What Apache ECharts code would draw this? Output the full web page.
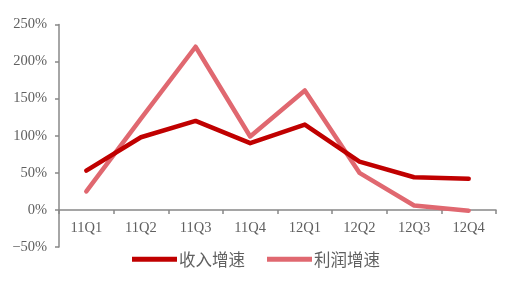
<!DOCTYPE html>
<html><head><meta charset="utf-8">
<script src="https://cdn.jsdelivr.net/npm/echarts@6/dist/echarts.min.js"></script>
<style>html,body{margin:0;padding:0;background:#fff}#c{width:520px;height:293px}</style>
</head><body><div id="c"></div>
<script>
var categories = ['11Q1','11Q2','11Q3','11Q4','12Q1','12Q2','12Q3','12Q4'];
var revenueGrowth = [53, 98, 120, 90, 115, 65, 44, 42];
var profitGrowth = [25, 123, 220, 99, 161, 50, 6, -1];
var seriesNames = ['收入增速','利润增速'];
var yTicks = {'-50':'−50%','0':'0%','50':'50%','100':'100%','150':'150%','200':'200%','250':'250%'};

var chart = echarts.init(document.getElementById('c'));
var labelFont = {fontFamily:'"Liberation Serif","DejaVu Serif",serif', fontSize:14.5, color:'#606060'};
chart.setOption({
  animation:false,
  grid:{left:59, top:24.5, right:24, bottom:46, containLabel:false},
  legend:{
    top:246, left:127,
    icon:'rect', itemWidth:45, itemHeight:5, itemGap:22,
    textStyle:{fontFamily:'"Noto Sans CJK SC",sans-serif', fontSize:16.5, color:'#606060', padding:[0,0,0,-3]},
    data:seriesNames
  },
  xAxis:{
    type:'category', data:categories,
    offset:-37,
    axisLine:{onZero:false, lineStyle:{color:'#888', width:1.5}},
    axisTick:{show:true, length:4, lineStyle:{color:'#888', width:1.5}},
    axisLabel:Object.assign({margin:11}, labelFont)
  },
  yAxis:{
    type:'value', min:-50, max:250, interval:50,
    splitLine:{show:false},
    axisLine:{show:true, lineStyle:{color:'#888', width:1.5}},
    axisTick:{show:true, length:4, lineStyle:{color:'#888', width:1.5}},
    axisLabel:Object.assign({margin:12, formatter:function(v){return yTicks[String(v)];}}, labelFont)
  },
  series:[
    {name:seriesNames[0], type:'line', data:revenueGrowth, symbol:'none',
     lineStyle:{color:'#C00000', width:4.5, cap:'round', join:'round'}, itemStyle:{color:'#C00000'}, z:3},
    {name:seriesNames[1], type:'line', data:profitGrowth, symbol:'none',
     lineStyle:{color:'#E06870', width:4.5, cap:'round', join:'round'}, itemStyle:{color:'#E06870'}, z:2}
  ]
});
</script></body></html>
